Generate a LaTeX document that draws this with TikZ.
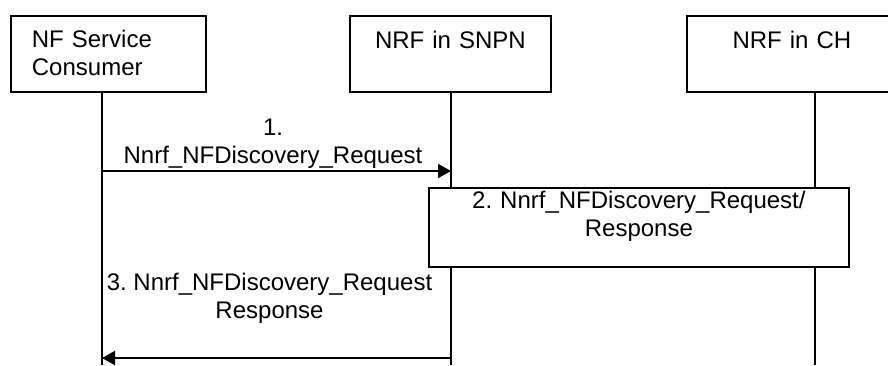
\documentclass[tikz,border=0pt]{standalone}
\usepackage{fontspec}
\setmainfont{Liberation Sans}
\usetikzlibrary{positioning, arrows.meta}

\begin{document}
\begin{tikzpicture}[
  x=1pt, y=-1pt,
  >={Triangle[length=13pt, width=14pt]},
  font=\fontsize{24pt}{28pt}\selectfont\frenchspacing,
  entity/.style = {draw, line width=1.8pt, rectangle, anchor=north west, inner sep=0pt,
                   text height=33pt, text depth=43pt},
  life/.style   = {line width=1.3pt},
  msg/.style    = {->, line width=2pt},
  action/.style = {draw, fill=white, line width=1.8pt, anchor=north west, inner sep=0pt,
                   align=center, text width=420pt, text height=21pt, text depth=58pt},
  msglabel/.style = {align=center, inner sep=0pt},
]
  \clip (0,0) rectangle (888,365);

  \node[entity, text width=153pt, inner xsep=21pt, align=left, text height=32pt, text depth=44pt]
                                           (nfc)  at (10,15)  {NF Service\\Consumer};
  \node[entity, text width=201pt, align=center] (snpn) at (349,15) {NRF in SNPN};
  \node[entity, text width=210pt, align=center] (ch)   at (686,15) {NRF in CH};

  % lifelines
  \coordinate (nfcEnd)  at (102,365);
  \coordinate (snpnEnd) at (451,365);
  \coordinate (chEnd)   at (815,365);
  \draw[life] (nfc.south -| nfcEnd)   -- (nfcEnd);
  \draw[life] (snpn.south -| snpnEnd) -- (snpnEnd);
  \draw[life] (ch.south -| chEnd)     -- (chEnd);

  \coordinate (m1) at (102,171);
  \draw[msg] (m1) -- node[msglabel, pos=0.49, above=2pt] (lbl1) {1.\\Nnrf\_NFDiscovery\_Request} (m1 -| snpnEnd);

  \node[action] (disc) at (428,187) {2. Nnrf\_NFDiscovery\_Request/\\Response};

  \coordinate (m3) at (451,358);
  \draw[msg] (m3) -- node[msglabel, pos=0.52, above=34pt] (lbl3) {3. Nnrf\_NFDiscovery\_Request\\Response} (m3 -| nfcEnd);
\end{tikzpicture}
\end{document}
